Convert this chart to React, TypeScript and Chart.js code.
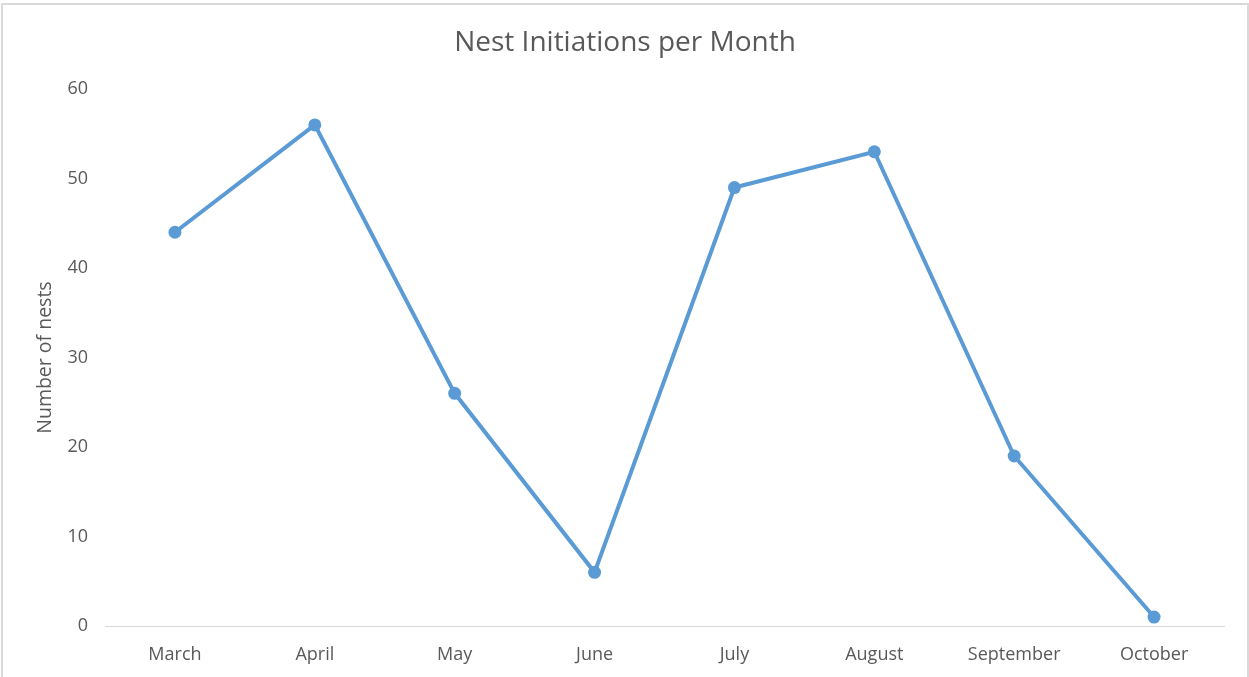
import React, { useEffect, useRef } from "react";
import { Chart, registerables } from "chart.js";

Chart.register(...registerables);

const months = ["March", "April", "May", "June", "July", "August", "September", "October"];
const nests = [44, 56, 26, 6, 49, 53, 19, 1];
const chartTitle = "Nest Initiations per Month";
const yTitle = "Number of nests";

const FONT = "'Open Sans', 'Noto Sans', sans-serif";
const TEXT = "#595959";
const BLUE = "#5B9BD5";

export default function App() {
  const ref = useRef<HTMLCanvasElement | null>(null);

  useEffect(() => {
    const canvas = ref.current;
    if (!canvas) return;
    const chart = new Chart(canvas, {
      type: "line",
      data: {
        labels: months,
        datasets: [
          {
            data: nests,
            borderColor: BLUE,
            backgroundColor: BLUE,
            borderWidth: 4,
            pointRadius: 6.5,
            pointBackgroundColor: BLUE,
            pointBorderColor: BLUE,
            pointBorderWidth: 0,
            tension: 0,
          },
        ],
      },
      options: {
        animation: false,
        responsive: false,
        maintainAspectRatio: false,
        layout: { padding: { left: 26, right: 25, top: 0, bottom: 0 } },
        plugins: {
          legend: { display: false },
          tooltip: { enabled: false },
          title: {
            display: true,
            text: chartTitle,
            color: TEXT,
            font: { family: FONT, size: 28, weight: "normal" },
            padding: { top: 26, bottom: 29.5 },
          },
        },
        scales: {
          x: {
            type: "category",
            offset: true,
            grid: { display: false, drawTicks: false },
            border: { display: true, color: "#d9d9d9", width: 1 },
            ticks: {
              color: TEXT,
              font: { family: FONT, size: 18 },
              padding: 18,
              maxRotation: 0,
              autoSkip: false,
            },
            afterFit: (scale: any) => {
              scale.height = 51;
            },
          },
          y: {
            min: 0,
            max: 60,
            grid: { display: false, drawTicks: false },
            border: { display: false },
            ticks: {
              stepSize: 10,
              color: TEXT,
              font: { family: FONT, size: 18 },
              padding: 17,
            },
            title: {
              display: true,
              text: yTitle,
              color: TEXT,
              font: { family: FONT, size: 19.5, weight: "normal" },
              padding: { top: 8, bottom: 0 },
            },
            afterFit: (scale: any) => {
              scale.width = 79;
            },
          },
        },
      },
    });
    return () => chart.destroy();
  }, []);

  return (
    <div
      style={{
        position: "fixed",
        left: 0,
        top: 0,
        width: 1249,
        height: 677,
        background: "#ffffff",
        overflow: "hidden",
      }}
    >
      <div
        style={{
          position: "absolute",
          left: 1,
          top: 3,
          width: 1244,
          height: 700,
          border: "2px solid #d9d9d9",
        }}
      />
      <canvas
        ref={ref}
        width={1249}
        height={677}
        style={{ position: "absolute", left: 0, top: 0, width: 1249, height: 677 }}
      />
    </div>
  );
}
